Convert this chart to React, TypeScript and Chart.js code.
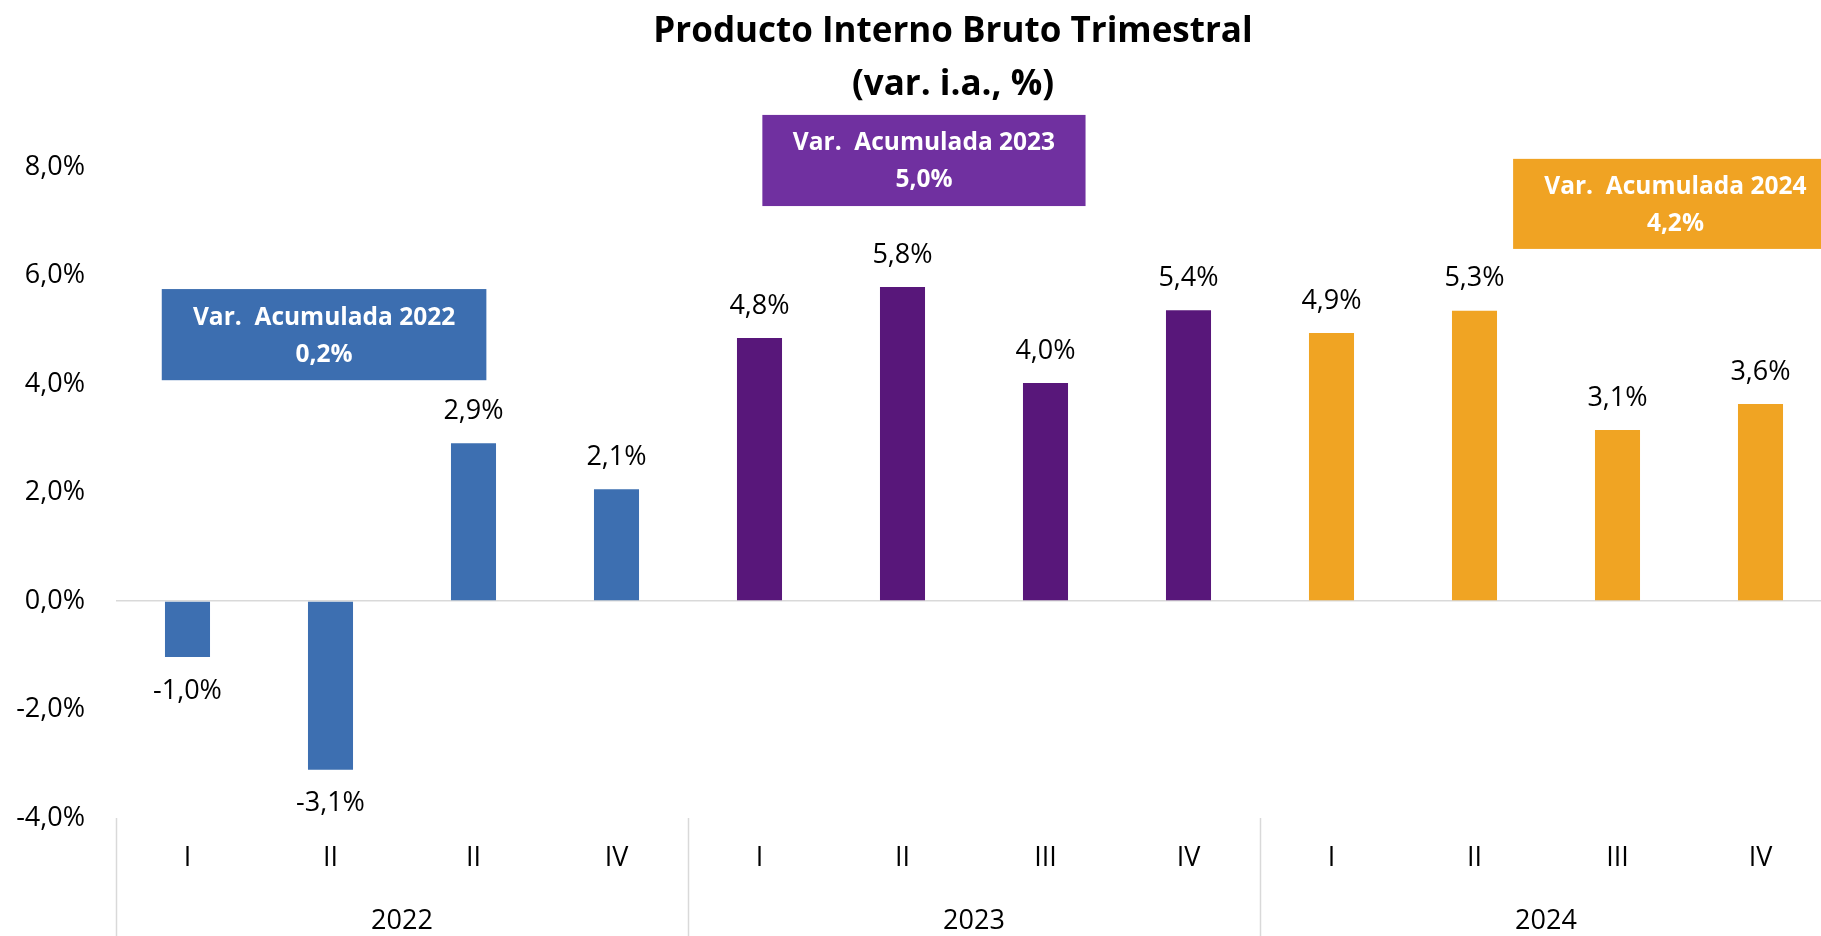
import React, { useEffect, useRef } from "react";
import { Chart, registerables } from "chart.js";

Chart.register(...registerables);

// ---- data ----
const quarters = ["I", "II", "II", "IV", "I", "II", "III", "IV", "I", "II", "III", "IV"];
const years = ["2022", "2023", "2024"];
const values = [-1.03, -3.11, 2.91, 2.06, 4.85, 5.79, 4.02, 5.36, 4.94, 5.35, 3.15, 3.63];
const valueLabels = ["-1,0%", "-3,1%", "2,9%", "2,1%", "4,8%", "5,8%", "4,0%", "5,4%", "4,9%", "5,3%", "3,1%", "3,6%"];
const accumLabels = ["Var.  Acumulada 2022", "Var.  Acumulada 2023", "Var.  Acumulada 2024"];
const accumValues = ["0,2%", "5,0%", "4,2%"];
const titleLines = ["Producto Interno Bruto Trimestral", "(var. i.a., %)"];
const yMin = -4;
const yMax = 8;
const yStep = 2;

// ---- styles / layout ----
const barColors = ["#3D6FB1", "#58177A", "#F0A423"];
const boxColors = ["#3C6EB0", "#7030A0", "#F0A323"];
// annotation box extents in axis units (category index / value)
const boxXMin = [-0.18, 4.02, 9.27];
const boxXMax = [2.09, 6.28, 11.54];
const boxYTop = [5.75, 8.96, 8.15];
const boxYBottom = [4.07, 7.28, 6.49];

const FONT = "'Open Sans', 'DejaVu Sans', sans-serif";
const fmt = (v: number) => v.toFixed(1).replace(".", ",") + "%";

const overlayPlugin = {
  id: "overlay",
  afterDraw(chart: any) {
    const ctx = chart.ctx as CanvasRenderingContext2D;
    const xs = chart.scales.x;
    const ys = chart.scales.y;
    const area = chart.chartArea;
    ctx.save();

    // title
    ctx.fillStyle = "#000";
    ctx.textAlign = "center";
    ctx.textBaseline = "alphabetic";
    ctx.font = `bold 35px ${FONT}`;
    ctx.fillText(titleLines[0], 953, 42);
    ctx.fillText(titleLines[1], 953, 95);

    // annotation boxes
    for (let i = 0; i < years.length; i++) {
      const x1 = xs.getPixelForValue(boxXMin[i]);
      const x2 = xs.getPixelForValue(boxXMax[i]);
      const y1 = ys.getPixelForValue(boxYTop[i]);
      const y2 = ys.getPixelForValue(boxYBottom[i]);
      ctx.fillStyle = boxColors[i];
      ctx.fillRect(x1, y1, x2 - x1, y2 - y1);
      ctx.fillStyle = "#fff";
      ctx.font = `bold 24.5px ${FONT}`;
      ctx.textBaseline = "middle";
      const cx = (x1 + x2) / 2;
      const cy = (y1 + y2) / 2;
      ctx.fillText(accumLabels[i], cx, cy - 17);
      ctx.fillText(accumValues[i], cx, cy + 20);
    }

    // data labels
    const meta = chart.getDatasetMeta(0);
    ctx.fillStyle = "#000";
    ctx.font = `27px ${FONT}`;
    ctx.textBaseline = "middle";
    meta.data.forEach((bar: any, i: number) => {
      const v = values[i];
      const y = v >= 0 ? bar.y - 32 : bar.y + 34;
      ctx.fillText(valueLabels[i], bar.x, y);
    });

    // group dividers & year labels
    ctx.strokeStyle = "#D9D9D9";
    ctx.lineWidth = 1.5;
    for (let g = 0; g <= years.length; g++) {
      const x = Math.round(xs.getPixelForValue(g * 4 - 0.5)) + 0.5;
      ctx.beginPath();
      ctx.moveTo(x, area.bottom);
      ctx.lineTo(x, chart.height);
      ctx.stroke();
    }
    ctx.fillStyle = "#000";
    ctx.font = `27px ${FONT}`;
    for (let g = 0; g < years.length; g++) {
      const cx = (xs.getPixelForValue(g * 4) + xs.getPixelForValue(g * 4 + 3)) / 2;
      ctx.fillText(years[g], cx, 921);
    }
    ctx.restore();
  },
};

export default function App() {
  const ref = useRef<HTMLCanvasElement | null>(null);
  useEffect(() => {
    if (!ref.current) return;
    const chart = new Chart(ref.current, {
      type: "bar",
      data: {
        labels: quarters,
        datasets: [
          {
            data: values,
            backgroundColor: values.map((_, i) => barColors[Math.floor(i / 4)]),
            barPercentage: 0.315,
            categoryPercentage: 1,
          },
        ],
      },
      options: {
        responsive: false,
        animation: false,
        layout: { padding: { top: 167, left: 0, right: 8, bottom: 0 } },
        plugins: { legend: { display: false }, tooltip: { enabled: false }, title: { display: false } },
        scales: {
          x: {
            offset: true,
            grid: { display: false, drawTicks: false },
            border: { display: false },
            ticks: { color: "#000", font: { family: FONT, size: 27 }, padding: 24, maxRotation: 0, autoSkip: false },
            afterFit: (s: any) => {
              s.height = 118;
            },
          },
          y: {
            min: yMin,
            max: yMax,
            border: { display: false },
            grid: {
              drawTicks: false,
              lineWidth: 1.5,
              color: (c: any) => (c.tick && c.tick.value === 0 ? "#D9D9D9" : "rgba(0,0,0,0)"),
            },
            ticks: {
              stepSize: yStep,
              color: "#000",
              font: { family: FONT, size: 27 },
              padding: 31,
              callback: (v: any) => fmt(Number(v)),
            },
            afterFit: (s: any) => {
              s.width = 116;
            },
          },
        },
      },
      plugins: [overlayPlugin],
    });
    return () => chart.destroy();
  }, []);
  return (
    <div style={{ position: "fixed", left: 0, top: 0, width: 1821, height: 936, overflow: "hidden", background: "#fff" }}>
      <canvas ref={ref} width={1840} height={936} style={{ display: "block", width: 1840, height: 936 }} />
    </div>
  );
}
